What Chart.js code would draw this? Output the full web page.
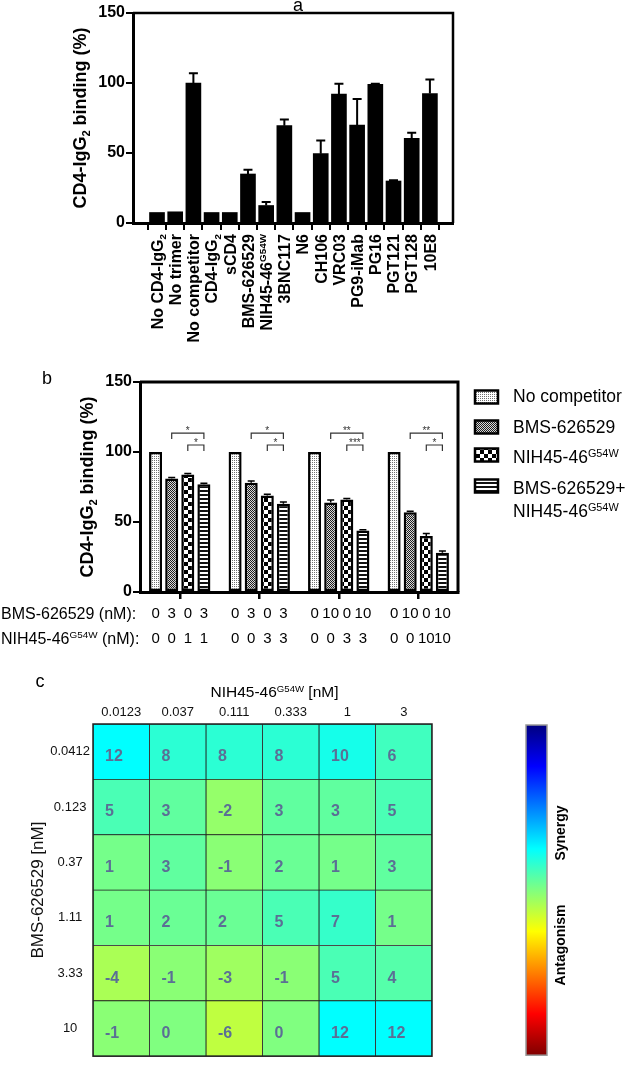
<!DOCTYPE html>
<html>
<head>
<meta charset="utf-8">
<script src="https://cdn.jsdelivr.net/npm/chart.js@4.4.0/dist/chart.umd.min.js"></script>
<style>
  html, body { margin: 0; padding: 0; background: #fff; }
  #page { position: relative; width: 625px; height: 1067px; overflow: hidden; }
  canvas { position: absolute; left: 0; }
</style>
</head>
<body>
<div id="page">
  <canvas id="chartA" width="625" height="370" style="top:0"></canvas>
  <canvas id="chartB" width="625" height="280" style="top:370px"></canvas>
  <canvas id="chartC" width="625" height="417" style="top:650px"></canvas>
</div>
<script>
// ---- panel a ----
const antibodyLabels = ['No CD4-IgG_{2}', 'No trimer', 'No competitor', 'CD4-IgG_{2}', 'sCD4', 'BMS-626529',
  'NIH45-46^{G54W}', '3BNC117', 'N6', 'CH106', 'VRC03', 'PG9-iMab', 'PG16', 'PGT121', 'PGT128', '10E8'];
const bindingA = [7.5, 8, 100, 7.5, 7.5, 35, 12.5, 69.5, 7.5, 49.5, 92, 70, 99, 30, 60.5, 92.5];
const errorA = [0, 0, 7, 0, 0, 3, 2.5, 4.5, 0, 9.5, 7.5, 18.5, 0.5, 0.5, 4, 10];
const ticksA = [0, 50, 100, 150];

// ---- panel b ----
const groupNames = ['3 + 1', '3 + 3', '10 + 3', '10 + 10'];
const seriesNames = ['No competitor', 'BMS-626529', 'NIH45-46^{G54W}', 'BMS-626529+|NIH45-46^{G54W}'];
const noCompetitor = [100, 100, 100, 100];
const bmsOnly = [81, 78, 64, 57];
const nihOnly = [84, 69, 66, 40];
const combo = [77, 63, 44, 28];
const errNoComp = [0, 0, 0, 0];
const errBms = [0.8, 1.2, 1.8, 0.6];
const errNih = [0.6, 0.8, 0.8, 1.8];
const errCombo = [0.6, 1.2, 0.5, 1.2];
const bmsConc = [[0, 3, 0, 3], [0, 3, 0, 3], [0, 10, 0, 10], [0, 10, 0, 10]];
const nihConc = [[0, 0, 1, 1], [0, 0, 3, 3], [0, 0, 3, 3], [0, 0, 10, 10]];
const sigOuter = ['*', '*', '**', '**'];   // BMS vs combo
const sigInner = ['*', '*', '***', '*'];   // NIH vs combo

// ---- panel c ----
const rowLabels = ['0.0412', '0.123', '0.37', '1.11', '3.33', '10'];
const colLabels = ['0.0123', '0.037', '0.111', '0.333', '1', '3'];
const synergy = [
  [12, 8, 8, 8, 10, 6],
  [5, 3, -2, 3, 3, 5],
  [1, 3, -1, 2, 1, 3],
  [1, 2, 2, 5, 7, 1],
  [-4, -1, -3, -1, 5, 4],
  [-1, 0, -6, 0, 12, 12]
];
const colorRange = 48;

const FAMILY = '"Liberation Sans", Arial, Helvetica, sans-serif';
Chart.defaults.font.family = FAMILY;
Chart.defaults.color = '#000';
Chart.defaults.animation = false;

// text with ^{sup} and _{sub}
function parseRich(s) {
  const parts = [];
  const re = /(\^|_)\{([^}]*)\}/g;
  let last = 0, m;
  while ((m = re.exec(s))) {
    if (m.index > last) parts.push({ t: s.slice(last, m.index), k: 0 });
    parts.push({ t: m[2], k: m[1] === '^' ? 1 : -1 });
    last = re.lastIndex;
  }
  if (last < s.length) parts.push({ t: s.slice(last), k: 0 });
  return parts;
}
function richText(ctx, s, x, y, size, weight, align) {
  const parts = parseRich(s);
  const fontOf = p => weight + ' ' + (p.k ? size * 0.62 : size) + 'px ' + FAMILY;
  let w = 0;
  parts.forEach(p => { ctx.font = fontOf(p); p.w = ctx.measureText(p.t).width; w += p.w; });
  let cx = align === 'right' ? x - w : align === 'center' ? x - w / 2 : x;
  ctx.textAlign = 'left';
  ctx.textBaseline = 'alphabetic';
  parts.forEach(p => {
    ctx.font = fontOf(p);
    const dy = p.k === 1 ? -size * 0.36 : p.k === -1 ? size * 0.22 : 0;
    ctx.fillText(p.t, cx, y + dy);
    cx += p.w;
  });
}
function vertText(ctx, s, x, y, size, weight) {
  ctx.save();
  ctx.translate(x, y);
  ctx.rotate(-Math.PI / 2);
  richText(ctx, s, 0, size * 0.35, size, weight, 'center');
  ctx.restore();
}
function frame(chart, w) {
  const { ctx, chartArea: a } = chart;
  ctx.save();
  ctx.strokeStyle = '#000';
  ctx.lineWidth = w;
  ctx.beginPath();
  ctx.moveTo(a.left, a.top);
  ctx.lineTo(a.right, a.top);
  ctx.lineTo(a.right, a.bottom);
  ctx.stroke();
  ctx.restore();
}

// ---------- chart a ----------
const panelA = {
  id: 'panelA',
  afterDatasetsDraw(chart) {
    const { ctx, scales: { x, y } } = chart;
    ctx.save();
    ctx.strokeStyle = '#000';
    ctx.lineWidth = 2;
    bindingA.forEach((v, i) => {
      const e = errorA[i];
      if (!e) return;
      const px = x.getPixelForValue(i);
      const top = y.getPixelForValue(v + e);
      ctx.beginPath();
      ctx.moveTo(px, y.getPixelForValue(v));
      ctx.lineTo(px, top);
      ctx.moveTo(px - 4.5, top);
      ctx.lineTo(px + 4.5, top);
      ctx.stroke();
    });
    ctx.restore();
  },
  afterDraw(chart) {
    const { ctx, scales: { x }, chartArea: a } = chart;
    frame(chart, 2.5);
    ctx.save();
    ctx.fillStyle = '#000';
    antibodyLabels.forEach((lab, i) => {
      ctx.save();
      ctx.translate(x.getPixelForValue(i), a.bottom + 11);
      ctx.rotate(-Math.PI / 2);
      richText(ctx, lab, 0, 16 * 0.36, 16, 'bold', 'right');
      ctx.restore();
    });
    vertText(ctx, 'CD4-IgG_{2} binding (%)', 80, (a.top + a.bottom) / 2, 18, 'bold');
    ctx.font = '18px ' + FAMILY;
    ctx.textAlign = 'center';
    ctx.textBaseline = 'middle';
    ctx.fillText('a', 298, 6);
    ctx.restore();
  }
};

new Chart(document.getElementById('chartA'), {
  type: 'bar',
  data: {
    datasets: [{
      data: bindingA.map((v, i) => ({ x: i, y: v })),
      backgroundColor: '#000',
      barThickness: 15
    }]
  },
  options: {
    responsive: false,
    layout: { padding: { left: 0, right: 172, top: 13, bottom: 0 } },
    plugins: { legend: { display: false }, tooltip: { enabled: false } },
    scales: {
      x: {
        type: 'linear', min: -0.77, max: 15.72,
        afterBuildTicks: s => { s.ticks = antibodyLabels.map((_, i) => ({ value: i })); },
        afterFit: s => { s.height = 147; },
        ticks: { display: false },
        grid: { drawOnChartArea: false, color: '#000', lineWidth: 2, tickLength: 7 },
        border: { color: '#000', width: 3 }
      },
      y: {
        min: 0, max: 150,
        afterBuildTicks: s => { s.ticks = ticksA.map(v => ({ value: v })); },
        afterFit: s => { s.width = 133; },
        ticks: { font: { size: 16, weight: 'bold' }, padding: 1 },
        grid: { drawOnChartArea: false, color: '#000', lineWidth: 2, tickLength: 7 },
        border: { color: '#000', width: 3 }
      }
    }
  },
  plugins: [panelA]
});

// ---------- chart b ----------
function pattern(kind) {
  const c = document.createElement('canvas');
  const g = c.getContext('2d');
  if (kind === 'dots') {
    c.width = c.height = 2;
    g.fillStyle = '#fff'; g.fillRect(0, 0, 2, 2);
    g.fillStyle = '#707070'; g.fillRect(0, 0, 1, 1);
  } else if (kind === 'fine') {
    c.width = c.height = 2;
    g.fillStyle = '#d8d8d8'; g.fillRect(0, 0, 2, 2);
    g.fillStyle = '#1e1e1e'; g.fillRect(0, 0, 1, 1); g.fillRect(1, 1, 1, 1);
  } else if (kind === 'checker') {
    c.width = c.height = 8;
    g.fillStyle = '#fff'; g.fillRect(0, 0, 8, 8);
    g.fillStyle = '#000'; g.fillRect(0, 0, 4, 4); g.fillRect(4, 4, 4, 4);
  } else {
    c.width = 4; c.height = 4;
    g.fillStyle = '#fff'; g.fillRect(0, 0, 4, 4);
    g.fillStyle = '#111'; g.fillRect(0, 0, 4, 2);
  }
  return g.createPattern(c, 'repeat');
}
const fills = [pattern('dots'), pattern('fine'), pattern('checker'), pattern('stripes')];
const seriesB = [noCompetitor, bmsOnly, nihOnly, combo];
const errorsB = [errNoComp, errBms, errNih, errCombo];

const panelB = {
  id: 'panelB',
  afterDatasetsDraw(chart) {
    const { ctx, scales: { y } } = chart;
    ctx.save();
    ctx.strokeStyle = '#000';
    ctx.lineWidth = 1.5;
    seriesB.forEach((vals, d) => {
      const meta = chart.getDatasetMeta(d);
      vals.forEach((v, g) => {
        const e = errorsB[d][g];
        if (!e) return;
        const px = meta.data[g].x, top = y.getPixelForValue(v + e);
        ctx.beginPath();
        ctx.moveTo(px, y.getPixelForValue(v));
        ctx.lineTo(px, top);
        ctx.moveTo(px - 3.5, top);
        ctx.lineTo(px + 3.5, top);
        ctx.stroke();
      });
    });
    // significance brackets
    ctx.strokeStyle = '#333';
    ctx.fillStyle = '#333';
    ctx.lineWidth = 1.2;
    ctx.font = '10px ' + FAMILY;
    ctx.textAlign = 'center';
    ctx.textBaseline = 'alphabetic';
    const bracket = (x1, x2, val, label) => {
      const py = y.getPixelForValue(val);
      ctx.beginPath();
      ctx.moveTo(x1, py + 6); ctx.lineTo(x1, py); ctx.lineTo(x2, py); ctx.lineTo(x2, py + 6);
      ctx.stroke();
      ctx.fillText(label, (x1 + x2) / 2, py + 1);
    };
    groupNames.forEach((_, g) => {
      const xb = chart.getDatasetMeta(1).data[g].x;
      const xn = chart.getDatasetMeta(2).data[g].x;
      const xc = chart.getDatasetMeta(3).data[g].x;
      bracket(xb, xc, 113.5, sigOuter[g]);
      bracket(xn, xc, 105, sigInner[g]);
    });
    ctx.restore();
  },
  afterDraw(chart) {
    const { ctx, chartArea: a } = chart;
    frame(chart, 3);
    ctx.save();
    ctx.fillStyle = '#000';
    vertText(ctx, 'CD4-IgG_{2} binding (%)', 87, (a.top + a.bottom) / 2, 18, 'bold');
    // legend
    const boxY = [27, 57, 85, 116];
    const textY = [[26], [57], [87], [118, 141]];
    seriesNames.forEach((name, d) => {
      ctx.fillStyle = fills[d];
      ctx.fillRect(475, boxY[d] - 6.5, 23, 13);
      ctx.strokeStyle = '#000';
      ctx.lineWidth = 2.5;
      ctx.strokeRect(475, boxY[d] - 6.5, 23, 13);
      ctx.fillStyle = '#000';
      name.split('|').forEach((line, k) => {
        richText(ctx, line, 513, textY[d][k] + 17.5 * 0.35, 17.5, 'normal', 'left');
      });
    });
    // concentration rows
    richText(ctx, 'BMS-626529 (nM):', 1, 243 + 16 * 0.35, 16, 'normal', 'left');
    richText(ctx, 'NIH45-46^{G54W} (nM):', 1, 268 + 16 * 0.35, 16, 'normal', 'left');
    ctx.font = '15px ' + FAMILY;
    ctx.textAlign = 'center';
    ctx.textBaseline = 'middle';
    groupNames.forEach((_, g) => {
      for (let d = 0; d < 4; d++) {
        const px = chart.getDatasetMeta(d).data[g].x;
        ctx.fillText(String(bmsConc[g][d]), px, 244);
        ctx.fillText(String(nihConc[g][d]), px, 269);
      }
    });
    ctx.font = '18px ' + FAMILY;
    ctx.fillText('b', 47, 9);
    ctx.restore();
  }
};

new Chart(document.getElementById('chartB'), {
  type: 'bar',
  data: {
    labels: groupNames,
    datasets: seriesB.map((vals, d) => ({
      label: seriesNames[d],
      data: vals,
      backgroundColor: fills[d],
      borderColor: '#000',
      borderWidth: 2.5,
      borderSkipped: false,
      barPercentage: 0.81,
      categoryPercentage: 0.81
    }))
  },
  options: {
    responsive: false,
    layout: { padding: { left: 0, right: 167, top: 12, bottom: 0 } },
    plugins: { legend: { display: false }, tooltip: { enabled: false } },
    scales: {
      x: {
        afterFit: s => { s.height = 58; },
        ticks: { display: false },
        grid: { offset: false, drawOnChartArea: false, color: '#000', lineWidth: 2.5, tickLength: 7 },
        border: { color: '#000', width: 3 }
      },
      y: {
        min: 0, max: 150,
        afterBuildTicks: s => { s.ticks = ticksA.map(v => ({ value: v })); },
        afterFit: s => { s.width = 140; },
        ticks: { font: { size: 16, weight: 'bold' }, padding: 1 },
        grid: { drawOnChartArea: false, color: '#000', lineWidth: 2, tickLength: 7 },
        border: { color: '#000', width: 3 }
      }
    }
  },
  plugins: [panelB]
});

// ---------- chart c ----------
function jet(t) {
  const c = k => Math.round(255 * Math.max(0, Math.min(1, 1.5 - Math.abs(4 * t - k))));
  return 'rgb(' + c(3) + ',' + c(2) + ',' + c(1) + ')';
}
const cellColor = v => jet((colorRange - v) / (2 * colorRange));

const panelC = {
  id: 'panelC',
  afterDatasetsDraw(chart) {
    const { ctx, scales: { x, y } } = chart;
    ctx.save();
    ctx.fillStyle = '#5b6f95';
    ctx.font = 'bold 16px ' + FAMILY;
    ctx.textAlign = 'left';
    ctx.textBaseline = 'middle';
    synergy.forEach((row, i) => {
      row.forEach((v, j) => {
        ctx.fillText(String(v), x.getPixelForValue(j) + 12, y.getPixelForValue(i) + 5);
      });
    });
    ctx.restore();
  },
  afterDraw(chart) {
    const { ctx, chartArea: a } = chart;
    ctx.save();
    ctx.strokeStyle = '#222';
    ctx.lineWidth = 1.5;
    ctx.strokeRect(a.left, a.top, a.right - a.left, a.bottom - a.top);
    // colour bar
    const bx = a.right + 94, bw = 21, top = a.top + 1, bot = a.bottom - 1;
    const grad = ctx.createLinearGradient(0, top, 0, bot);
    for (let k = 0; k <= 32; k++) grad.addColorStop(k / 32, jet(k / 32));
    ctx.fillStyle = grad;
    ctx.fillRect(bx, top, bw, bot - top);
    ctx.strokeStyle = '#999';
    ctx.lineWidth = 1.5;
    ctx.strokeRect(bx, top, bw, bot - top);
    ctx.fillStyle = '#000';
    vertText(ctx, 'Synergy', 560, 183, 14, 'bold');
    vertText(ctx, 'Antagonism', 560, 295, 14, 'bold');
    richText(ctx, 'NIH45-46^{G54W} [nM]', (a.left + a.right) / 2 + 12, 42 + 15 * 0.36, 15.5, 'normal', 'center');
    ctx.font = '18px ' + FAMILY;
    ctx.textAlign = 'center';
    ctx.textBaseline = 'middle';
    ctx.fillText('c', 40, 32);
    ctx.restore();
  }
};

new Chart(document.getElementById('chartC'), {
  type: 'bar',
  data: {
    labels: rowLabels,
    datasets: colLabels.map((c, j) => ({
      label: c,
      data: rowLabels.map(() => [j, j + 1]),
      backgroundColor: rowLabels.map((r, i) => cellColor(synergy[i][j])),
      borderColor: '#222',
      borderWidth: 0.8,
      borderSkipped: false,
      barPercentage: 1,
      categoryPercentage: 1,
      grouped: false
    }))
  },
  options: {
    indexAxis: 'y',
    responsive: false,
    layout: { padding: { left: 0, right: 193, top: 0, bottom: 1 } },
    plugins: { legend: { display: false }, tooltip: { enabled: false } },
    scales: {
      x: {
        type: 'linear', position: 'top', min: 0, max: 6,
        afterBuildTicks: s => { s.ticks = colLabels.map((_, j) => ({ value: j + 0.5 })); },
        afterFit: s => { s.height = 74; },
        ticks: { callback: (v, idx) => colLabels[idx], font: { size: 13 }, color: '#111', padding: 4 },
        grid: { display: false, drawTicks: false },
        border: { display: false }
      },
      y: {
        afterFit: s => { s.width = 93; },
        ticks: { font: { size: 13 }, color: '#111', crossAlign: 'center', padding: 3 },
        grid: { display: false, drawTicks: false },
        border: { display: false },
        title: { display: true, text: 'BMS-626529 [nM]', font: { size: 17 }, color: '#111', padding: { top: 28, bottom: 0 } }
      }
    }
  },
  plugins: [panelC]
});
</script>
</body>
</html>
